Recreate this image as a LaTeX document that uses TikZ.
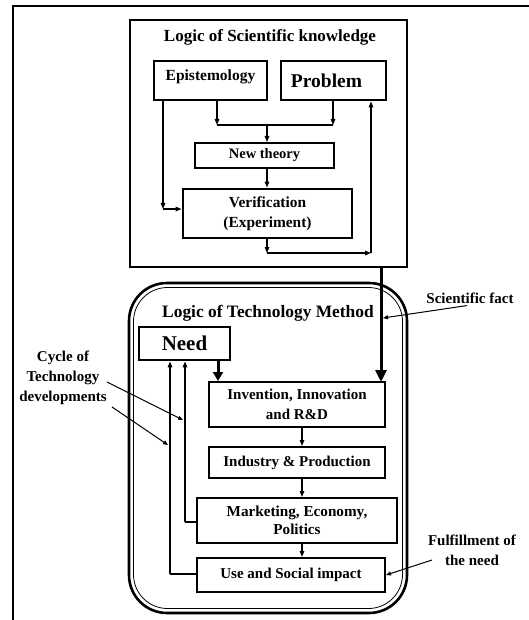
\documentclass[tikz,border=0pt]{standalone}
\usepackage{fontspec}
\setmainfont{Liberation Serif}
\usetikzlibrary{arrows.meta,calc}
\tikzset{
  box/.style={draw, line width=2pt, inner sep=0pt, align=center, font=\bfseries\fontsize{15}{19.5}\selectfont},
  thickbox/.style={box, line width=2.8pt},
  lbl/.style={align=center, inner sep=0pt, font=\bfseries\fontsize{15}{20}\selectfont},
  arr/.style={line width=1.3pt, -{Triangle[length=6pt,width=4.5pt]}},
  ln/.style={line width=1.3pt},
  bigarr/.style={line width=3pt, -{Triangle[length=12pt,width=11pt]}},
  sarr/.style={line width=1pt, -{Triangle[length=5pt,width=4pt]}},
}
\begin{document}
\begin{tikzpicture}[x=1pt,y=-1pt]
\useasboundingbox (0,0) rectangle (529,620);
% outer frame
\draw[line width=2pt] (13,620) -- (13,6) -- (529,6);
% scientific knowledge box
\node[draw, line width=2.6pt, minimum width=277pt, minimum height=247pt] (topbox) at (268.5,143.5) {};
\node[lbl, font=\bfseries\fontsize{17}{20}\selectfont] (t1) at (270,37) {Logic of Scientific knowledge};
\node[thickbox, minimum width=113pt, minimum height=39pt, font=\bfseries\fontsize{15.5}{17}\selectfont] (epi) at (210.5,80.5) {Epistemology\\[-7pt]~};
\node[thickbox, minimum width=105pt, minimum height=39pt, font=\bfseries\fontsize{19.5}{22}\selectfont] (prob) at (333.5,80.5) {Problem\hspace*{14pt}};
\node[box, minimum width=139pt, minimum height=25pt, font=\bfseries\fontsize{14.5}{17}\selectfont] (nt) at (264.5,155.5) {New theory};
\node[thickbox, minimum width=169pt, minimum height=49pt, font=\bfseries\fontsize{15.4}{20}\selectfont] (ver) at (267.5,213.5) {Verification\\(Experiment)};
% connectors in top box
\coordinate (ja) at (217,125);
\coordinate (jb) at (333,125);
\coordinate (jd) at (267,253);
\coordinate (je) at (371,253);
\draw[arr] (epi.south -| ja) -- (ja);
\draw[arr] (prob.south -| jb) -- (jb);
\draw[ln] (ja) -- (jb);
\draw[arr] (jd |- ja) -- (nt.north -| jd);
\draw[arr] (nt.south -| jd) -- (ver.north -| jd);
\coordinate (jc) at (163,209);
\draw[arr] (epi.south -| jc) -- (jc);
\draw[arr] (jc) -- (ver.west |- jc);
\draw[arr] (ver.south -| jd) -- (jd);
\draw[arr] (jd) -- (je);
\draw[arr] (je) -- (prob.south -| je);
% technology method
\draw[line width=2.6pt, rounded corners=38pt] (129,283) rectangle (407,613);
\draw[line width=0.8pt, rounded corners=34pt] (133.5,287.5) rectangle (402.5,608.5);
\node[lbl, font=\bfseries\fontsize{17.4}{20}\selectfont] (t2) at (268,313) {Logic of Technology Method};
\node[thickbox, minimum width=91pt, minimum height=33pt, font=\bfseries\fontsize{21}{23}\selectfont] (need) at (184.5,343.5) {Need};
\node[box, minimum width=176pt, minimum height=45pt] (inv) at (297,404.5) {Invention, Innovation\\and R\&D};
\node[box, minimum width=176pt, minimum height=31pt] (ind) at (297,462.5) {Industry \& Production};
\node[box, minimum width=200pt, minimum height=45pt, font=\bfseries\fontsize{15.2}{18}\selectfont] (mkt) at (297,520.5) {Marketing, Economy,\\Politics};
\node[box, minimum width=188pt, minimum height=34pt] (use) at (291,575) {Use and Social impact};
% main flow
\coordinate (tin) at (381,382);
\draw[bigarr] (topbox.south -| tin) -- (tin);
\draw[line width=3pt, -{Triangle[length=9pt,width=10pt]}] (need.south -| 218,0) -- (inv.north -| 218,0);
\draw[arr] (inv.south -| 302,0) -- (ind.north -| 302,0);
\draw[arr] (ind.south -| 302,0) -- (mkt.north -| 302,0);
\draw[arr] (mkt.south -| 302,0) -- (use.north -| 302,0);
% feedback
\coordinate (fa) at (185,522);
\coordinate (fb) at (170,574);
\draw[ln] (mkt.west |- fa) -- (fa);
\draw[arr] (fa) -- (need.south -| fa);
\draw[ln] (use.west |- fb) -- (fb);
\draw[arr] (fb) -- (need.south -| fb);
% side labels
\node[lbl] (cyc) at (63,378) {Cycle of\\Technology\\developments};
\coordinate (ca) at (183,420);
\coordinate (cb) at (168,445);
\draw[sarr] (107,382) -- (ca);
\draw[sarr] (112,407) -- (cb);
\node[lbl] (sf) at (470,298) {Scientific fact};
\coordinate (sfe) at (383,318);
\draw[sarr] ($(sf.south)+(-3,2)$) -- (sfe);
\node[lbl] (ff) at (472,550) {Fulfillment of\\the need};
\draw[sarr] (432,560) -- (use.east);
\end{tikzpicture}
\end{document}
